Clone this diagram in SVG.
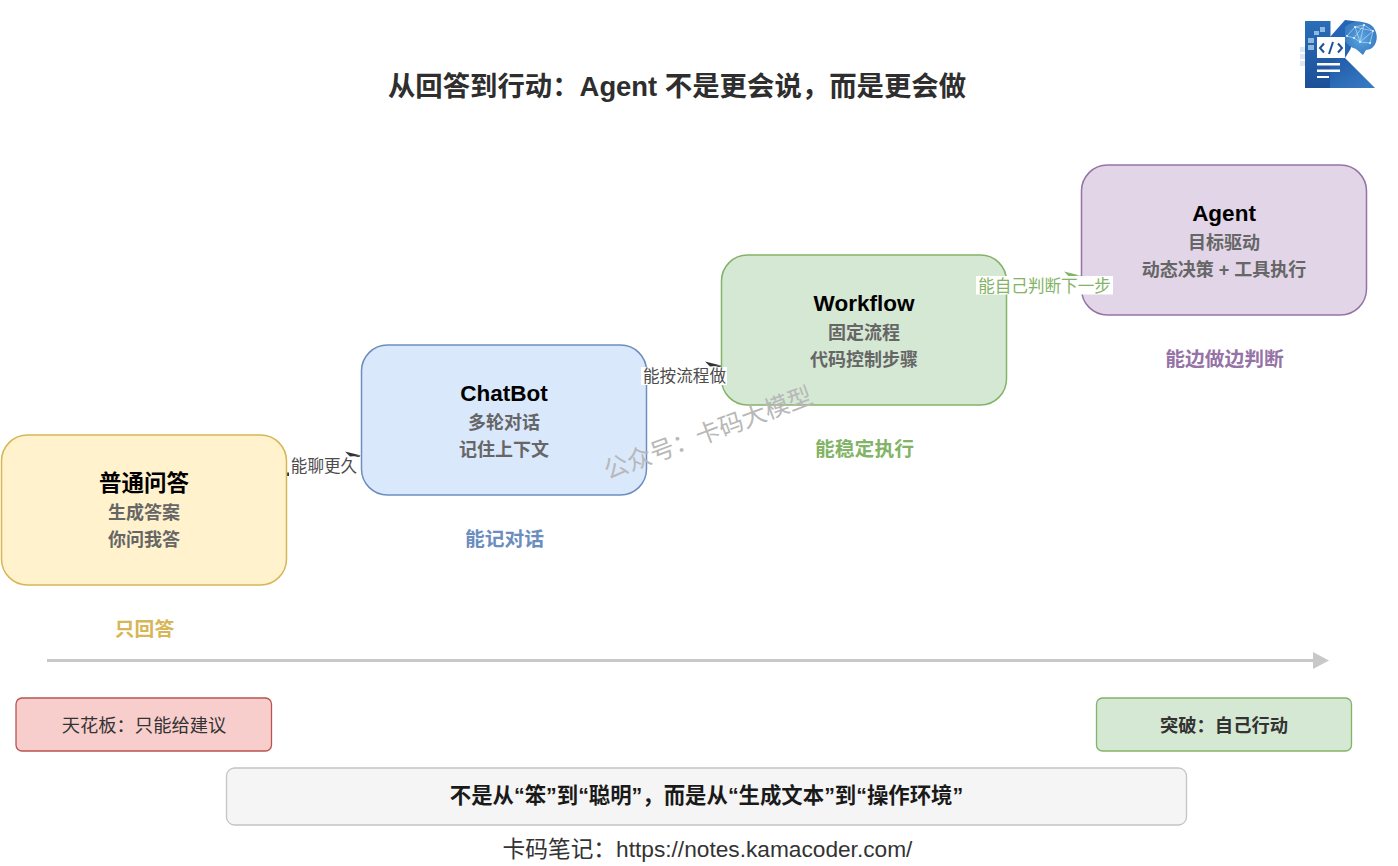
<svg xmlns="http://www.w3.org/2000/svg" width="1398" height="866" viewBox="0 0 1398 866">
<defs>
<linearGradient id="kg" x1="0" y1="0" x2="0" y2="1"><stop offset="0" stop-color="#2a6db8"/><stop offset="1" stop-color="#1c4f98"/></linearGradient>
<linearGradient id="kl" x1="0" y1="0" x2="1" y2="1"><stop offset="0" stop-color="#1f5aa6"/><stop offset="1" stop-color="#3a7cc6"/></linearGradient>
<radialGradient id="kb"><stop offset="0" stop-color="#5aa5e0"/><stop offset="1" stop-color="#3b7fc4"/></radialGradient>
</defs>
<style>
text{font-family:"Liberation Sans","Noto Sans CJK SC",sans-serif;text-anchor:middle}
.h{font-size:22.500px;font-weight:700;fill:#000}
.s{font-size:18px;font-weight:700;fill:#666}
.c{font-size:19.800px;font-weight:700}
.l{font-size:16.600px;fill:#4d4d4d}
.sq{fill:#8fb9df}
.pale{fill:#dfe8f2}
</style>
<rect width="1398" height="866" fill="#fff"/>
<text x="677" y="96" font-size="27.400" font-weight="700" fill="#2e2e2e">从回答到行动：Agent 不是更会说，而是更会做</text>

<g id="logo">
<rect x="1300" y="47" width="5" height="5" class="pale"/><rect x="1300" y="54" width="5" height="5" class="pale"/><rect x="1300" y="61" width="5" height="5" class="pale"/>
<rect x="1305" y="21" width="25.500" height="67" fill="url(#kg)"/>
<path d="M1330 37L1345 20L1362 22L1350 50L1345 58H1330Z" fill="#2566b4"/>
<path d="M1330 58H1345L1375 88H1330Z" fill="url(#kl)"/>
<path d="M1345 27Q1352 21 1362 22Q1372 23 1375 30Q1378 36 1376 42Q1374 49 1366 50L1363 55L1356 49Q1349 47 1345 41Z" fill="url(#kb)"/>
<path d="M1347 36L1355 27L1364 25L1373 31L1370 43L1360 42L1354 38L1347 36ZM1355 27L1360 42M1364 25L1360 42M1373 31L1360 42M1355 27L1373 31M1354 38L1364 25" stroke="#cfe6fa" stroke-width=".6" fill="none"/>
<g fill="#eaf5ff"><circle cx="1355" cy="27" r="1"/><circle cx="1364" cy="25" r="1"/><circle cx="1373" cy="31" r="1"/><circle cx="1370" cy="43" r="1"/><circle cx="1360" cy="42" r="1"/><circle cx="1354" cy="38" r="1"/><circle cx="1347" cy="36" r="1"/></g>
<rect x="1317" y="37" width="28" height="21" fill="#fff"/>
<path d="M1324 43.500L1320 48L1324 52.500M1338 43.500L1342 48L1338 52.500M1333 42L1329 54" stroke="#1f4f96" stroke-width="2" fill="none"/>
<path d="M1317 63H1340V65.500H1317ZM1317 69.500H1340V72H1317ZM1317 76H1329V78H1317Z" fill="#fff"/>
<rect x="1320" y="27" width="5" height="5" class="sq"/><rect x="1314" y="31" width="5" height="4" class="sq"/><rect x="1308" y="38" width="6" height="5" class="sq"/><rect x="1308" y="45" width="6" height="5" class="sq"/>
</g>

<g id="connectors">
<line x1="288" y1="474" x2="360" y2="456" stroke="#333" stroke-width="1.200"/>
<path d="M345 451.500L361 455.500L350 456.500Z" fill="#333"/>
<rect x="289" y="457" width="70" height="19" fill="#fff"/>
<path d="M286.500 472.500H289V476H286.500Z" fill="#333"/>
<line x1="648" y1="384" x2="721" y2="366" stroke="#333" stroke-width="1.200"/>
<path d="M705 361.500L721 365.500L710 366.500Z" fill="#333"/>
<line x1="1007" y1="294" x2="1081" y2="276" stroke="#82b366" stroke-width="1.200"/>
<path d="M1064 271.500L1080 275.500L1069 276.500Z" fill="#82b366"/>
<line x1="47" y1="660.500" x2="1318" y2="660.500" stroke="#c8c8c8" stroke-width="3"/>
<path d="M1313 652L1329 660.500L1313 669Z" fill="#c8c8c8"/>
</g>

<g id="n1"><rect x="1.500" y="435" width="285" height="150" rx="26" fill="#fff2cc" stroke="#d6b656" stroke-width="1.500"/>
<text x="144" y="491" class="h">普通问答</text><text x="144" y="518.500" class="s">生成答案</text><text x="144" y="545.500" class="s">你问我答</text></g>
<g id="n2"><rect x="361.500" y="345" width="285" height="150" rx="26" fill="#dae8fc" stroke="#6c8ebf" stroke-width="1.500"/>
<text x="504" y="401" class="h">ChatBot</text><text x="504" y="428.500" class="s">多轮对话</text><text x="504" y="455.500" class="s">记住上下文</text></g>
<g id="n3"><rect x="721.500" y="255" width="285" height="150" rx="26" fill="#d5e8d4" stroke="#82b366" stroke-width="1.500"/>
<text x="864" y="311" class="h">Workflow</text><text x="864" y="338.500" class="s">固定流程</text><text x="864" y="365.500" class="s">代码控制步骤</text></g>
<g id="n4"><rect x="1081.500" y="165" width="285" height="150" rx="26" fill="#e1d5e7" stroke="#9673a6" stroke-width="1.500"/>
<text x="1224" y="221" class="h">Agent</text><text x="1224" y="248.500" class="s">目标驱动</text><text x="1224" y="275.500" class="s">动态决策 + 工具执行</text></g>

<g id="labels">
<text x="324" y="471.500" class="l">能聊更久</text>
<rect x="641" y="367" width="86" height="18" fill="#fff"/>
<text x="684.500" y="381.500" class="l">能按流程做</text>
<rect x="976" y="276" width="137" height="18.500" fill="#fff"/>
<text x="1044.500" y="291.500" class="l" style="fill:#82b366">能自己判断下一步</text>
<text x="144.500" y="635.500" class="c" fill="#d6b656">只回答</text>
<text x="504.500" y="545.500" class="c" fill="#6c8ebf">能记对话</text>
<text x="864.500" y="455.500" class="c" fill="#82b366">能稳定执行</text>
<text x="1224.500" y="365.500" class="c" fill="#9673a6">能边做边判断</text>
<text transform="translate(711 441) rotate(-20.500)" font-size="24.500" fill="#b8b8b8">公众号：卡码大模型</text>
</g>

<g id="ceiling"><rect x="16" y="698" width="255.500" height="53" rx="6" fill="#f8cecc" stroke="#b85450" stroke-width="1.300"/>
<text x="144" y="731.500" font-size="18.300" fill="#333">天花板：只能给建议</text></g>
<g id="breakthrough"><rect x="1096.500" y="698" width="255" height="53" rx="6" fill="#d5e8d4" stroke="#82b366" stroke-width="1.300"/>
<text x="1224" y="731.500" font-size="18.300" font-weight="700" fill="#333">突破：自己行动</text></g>
<g id="summary"><rect x="226.500" y="768" width="960" height="57" rx="8" fill="#f5f5f5" stroke="#c4c4c4" stroke-width="1.300"/>
<text x="706.500" y="803" font-size="21.400" font-weight="700" fill="#1a1a1a">不是从“笨”到“聪明”，而是从“生成文本”到“操作环境”</text></g>
<text x="707.500" y="857" font-size="22.700" fill="#333">卡码笔记：https://notes.kamacoder.com/</text>
</svg>
